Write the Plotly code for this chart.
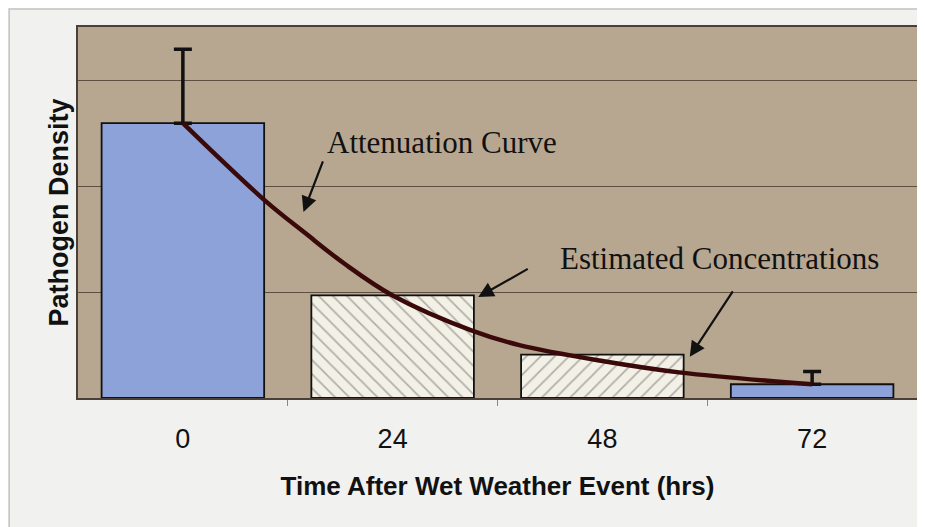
import plotly.graph_objects as go

# ---- data ----
times = [0, 24, 48, 72]
tick_labels = ["0", "24", "48", "72"]
density = [2.60, 0.97, 0.41, 0.13]
error_up = [0.70, 0.0, 0.0, 0.12]
is_estimated = [False, True, True, False]

curve_hours = [0, 9.5, 14, 18.5, 24, 33, 38.5, 48, 57, 72]
curve_vals = [2.60, 1.86, 1.56, 1.27, 0.97, 0.64, 0.50, 0.35, 0.24, 0.13]

BAR_W = 18.6
BLUE = "#8da2d8"
TAN = "#b8a790"

fig = go.Figure()

# measured bars (blue with error bars)
mx = [t for t, e in zip(times, is_estimated) if not e]
my = [d for d, e in zip(density, is_estimated) if not e]
me = [u for u, e in zip(error_up, is_estimated) if not e]
fig.add_trace(go.Bar(
    x=mx, y=my, width=[BAR_W] * len(mx),
    marker=dict(color=BLUE, line=dict(color="#111111", width=1.8)),
    error_y=dict(type="data", symmetric=False, array=me, arrayminus=[0] * len(me),
                 color="#111111", thickness=3.5, width=9),
    showlegend=False, hoverinfo="skip",
))

# estimated bars (hatched)
ex = [t for t, e in zip(times, is_estimated) if e]
ey = [d for d, e in zip(density, is_estimated) if e]
shapes_pat = ["\\", "/"]
fig.add_trace(go.Bar(
    x=ex, y=ey, width=[BAR_W] * len(ex),
    marker=dict(color="#f3f0e6", line=dict(color="#111111", width=1.8),
                pattern=dict(shape=shapes_pat, fgcolor="#6e6e6e", bgcolor="#f3f0e6",
                             size=10, solidity=0.18, fillmode="overlay")),
    showlegend=False, hoverinfo="skip",
))

# attenuation curve
fig.add_trace(go.Scatter(
    x=curve_hours, y=curve_vals, mode="lines",
    line=dict(color="#3a0a0a", width=4.5, shape="spline", smoothing=1.0),
    showlegend=False, hoverinfo="skip",
))

serif = "Liberation Serif, Times New Roman, serif"
annotations = [
    dict(x=16.3, y=2.42, xref="x", yref="y", text="Attenuation Curve", showarrow=False,
         xanchor="left", yanchor="middle", font=dict(family=serif, size=31, color="#111111")),
    dict(x=42.9, y=1.32, xref="x", yref="y", text="Estimated Concentrations", showarrow=False,
         xanchor="left", yanchor="middle", font=dict(family=serif, size=31, color="#111111")),
]
arrows = [(13.8, 1.76, 20, -52), (33.8, 0.955, 51, -29), (58.0, 0.39, 44, -67)]
for hx, hy, ax, ay in arrows:
    annotations.append(dict(x=hx, y=hy, xref="x", yref="y", text="", showarrow=True,
                            ax=ax, ay=ay, arrowhead=2, arrowsize=1.4, arrowwidth=2.2,
                            arrowcolor="#111111"))

fig.update_layout(
    width=917, height=519,
    margin=dict(l=70, r=6, t=19, b=129),
    paper_bgcolor="#f1f1f0",
    plot_bgcolor=TAN,
    barmode="overlay",
    annotations=annotations,
    shapes=[dict(type="rect", xref="paper", yref="paper", x0=-0.082, x1=1.2, y0=-0.5, y1=1.0485,
                 fillcolor="rgba(0,0,0,0)", line=dict(color="#c4c4c4", width=1.5), layer="below")],
    xaxis=dict(
        range=[-12, 84], tickmode="array", tickvals=times, ticktext=tick_labels,
        ticks="", showgrid=False, zeroline=False,
        showline=True, linecolor="#4a4038", linewidth=1.5, mirror=True,
        tickfont=dict(family="Liberation Sans, Arial", size=27, color="#111111"),
        ticklabelstandoff=16,
        minor=dict(tickmode="array", tickvals=[12, 36, 60], ticks="outside", ticklen=6,
                   tickcolor="#888888", tickwidth=1),
        title=dict(text="<b>Time After Wet Weather Event (hrs)</b>", standoff=24,
                   font=dict(family="Liberation Sans, Arial", size=26, color="#111111")),
    ),
    yaxis=dict(
        range=[0, 3.51], dtick=1, showticklabels=False, ticks="",
        showgrid=True, gridcolor="#5e5040", gridwidth=1.2, zeroline=False,
        showline=True, linecolor="#4a4038", linewidth=1.5, mirror=True,
        title=dict(text="<b>Pathogen Density</b>", standoff=0,
                   font=dict(family="Liberation Sans, Arial", size=27, color="#111111")),
    ),
)

fig.write_html("out.html")
